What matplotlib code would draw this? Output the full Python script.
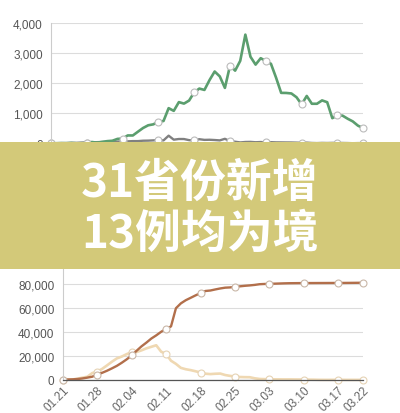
import numpy as np
import matplotlib
matplotlib.use('Agg')
import matplotlib.pyplot as plt
from matplotlib.patches import Rectangle

plt.rcParams['font.family'] = ['Liberation Sans', 'DejaVu Sans']

# daily new discharged (top, green) and daily deaths (top, gray), 01.21 - 03.22
cured_new = [0, 3, 6, 4, 11, 0, 2, 9, 43, 21, 47, 72, 85, 147, 157, 262, 261, 387, 510, 600,
             632, 716, 744, 1171, 1081, 1373, 1323, 1425, 1701, 1824, 1779, 2109, 2393, 2230,
             1846, 2589, 2422, 2750, 3622, 2885, 2623, 2837, 2742, 2652, 2189, 1681, 1678,
             1661, 1535, 1297, 1578, 1318, 1318, 1430, 1370, 838, 930, 922, 819, 730, 590, 504]
deaths_new = [3, 3, 8, 8, 16, 15, 24, 26, 26, 38, 43, 46, 45, 57, 64, 65, 73, 73, 86, 89,
              97, 108, 97, 254, 121, 143, 142, 105, 98, 136, 114, 118, 109, 97, 150, 71, 52,
              29, 44, 47, 35, 42, 31, 38, 31, 30, 28, 27, 22, 17, 22, 11, 7, 13, 10, 14, 13,
              11, 8, 3, 7, 6]

# cumulative confirmed (bottom, brown) and suspected (bottom, beige)
confirmed = [291, 440, 571, 830, 1287, 1975, 2744, 4515, 5974, 7711, 9692, 11791, 14380,
             17205, 20438, 24324, 28018, 31161, 34546, 37198, 40171, 42638, 44653, 59804,
             63851, 66492, 68500, 70548, 72436, 74185, 74576, 75465, 76288, 76936, 77150,
             77658, 78064, 78497, 78824, 79251, 79824, 80026, 80151, 80270, 80409, 80552,
             80651, 80695, 80735, 80754, 80778, 80793, 80813, 80824, 80844, 80860, 80881,
             80894, 80928, 80967, 81008, 81054]
suspected = [54, 393, 393, 1072, 1965, 2684, 5794, 6973, 9239, 12167, 15238, 17988, 19544,
             21558, 23214, 23260, 24702, 26359, 27657, 28942, 23589, 21675, 16067, 13435,
             10109, 8969, 8228, 7264, 6242, 5248, 4922, 5206, 5365, 4148, 3434, 2824, 2491,
             2358, 2308, 1418, 851, 715, 587, 520, 522, 482, 502, 458, 421, 349, 285, 253,
             147, 115, 113, 134, 128, 119, 105, 104, 106, 118]

tick_days = [0, 7, 14, 21, 28, 35, 42, 49, 56, 61]
tick_labels = ['01.21', '01.28', '02.04', '02.11', '02.18', '02.25',
               '03.03', '03.10', '03.17', '03.22']

title_lines = ['31省份新增', '13例均为境']

x = np.arange(len(cured_new))

fig = plt.figure(figsize=(4, 4.14), dpi=100)
fig.patch.set_facecolor('white')


def style_axes(ax, ymax, step):
    ax.set_xlim(0, len(x) - 1)
    ax.set_ylim(0, ymax)
    ax.set_yticks(np.arange(0, ymax + 1, step))
    ax.yaxis.set_major_formatter(matplotlib.ticker.FuncFormatter(lambda v, p: f'{int(v):,}'))
    ax.grid(axis='y', color='#dcdcdc', linewidth=0.8)
    ax.set_axisbelow(True)
    for s in ['top', 'right']:
        ax.spines[s].set_visible(False)
    ax.spines['left'].set_color('#cccccc')
    ax.spines['left'].set_linewidth(0.8)
    ax.tick_params(axis='y', length=0, labelsize=8.5, labelcolor='#555555', pad=6)


# top chart
ax1 = fig.add_axes([51 / 400, 1 - 144.3 / 414, 312 / 400, 120 / 414])
style_axes(ax1, 4000, 1000)
ax1.spines['bottom'].set_visible(False)
ax1.set_xticks([])
ax1.plot(x, deaths_new, color='#808080', lw=1.7, marker='o', ms=5, mfc='white',
         mec='#bbbbbb', mew=0.8, markevery=tick_days, clip_on=False)
ax1.plot(x, cured_new, color='#5b9e6e', lw=1.9, marker='o', ms=5, mfc='white',
         mec='#bbbbbb', mew=0.8, markevery=tick_days, clip_on=False)

# bottom chart
ax2 = fig.add_axes([62.7 / 400, 1 - 381 / 414, 300.3 / 400, 120 / 414])
style_axes(ax2, 100000, 20000)
ax2.spines['bottom'].set_color('#555555')
ax2.spines['bottom'].set_linewidth(0.9)
ax2.set_xticks(tick_days)
ax2.set_xticklabels(tick_labels, rotation=45, ha='right', va='top', rotation_mode='anchor')
ax2.tick_params(axis='x', length=0, labelsize=8.5, labelcolor='#666666', pad=3)
ax2.plot(x, suspected, color='#efd8b2', lw=1.9, marker='o', ms=5, mfc='white',
         mec='#e6d3b5', mew=0.8, markevery=tick_days, clip_on=False)
ax2.plot(x, confirmed, color='#b26f4b', lw=1.7, marker='o', ms=5, mfc='white',
         mec='#c9b7a8', mew=0.8, markevery=tick_days, clip_on=False)

# banner over the middle
fig.add_artist(Rectangle((0, 1 - 270 / 414), 1, 127 / 414, transform=fig.transFigure,
                         facecolor='#d3c979', edgecolor='none', zorder=10))
for i, line in enumerate(title_lines):
    fig.text(0.5, 1 - (184 + 51 * i) / 414, line, ha='center', va='center',
             color='white', fontsize=33, fontweight='bold', zorder=11,
             family=['Noto Sans CJK SC', 'DejaVu Sans'])

fig.savefig('out.png', dpi=100)
